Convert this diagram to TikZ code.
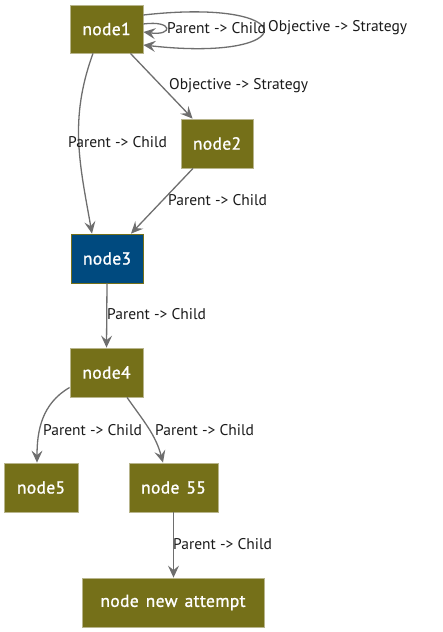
\documentclass[tikz,border=0pt]{standalone}
\usepackage{fontspec}
\setmainfont{PT Sans}
\newfontfamily\nodefont[FakeBold=1.1,WordSpace=1.4,LetterSpace=2]{PT Sans}
\usetikzlibrary{arrows.meta}
\definecolor{olive}{HTML}{757019}
\definecolor{olivebd}{HTML}{B8B58C}
\definecolor{navy}{HTML}{004A7F}
\definecolor{edgegray}{HTML}{6E6E6E}
\definecolor{lbltext}{HTML}{1A1A1A}
\begin{document}
\begin{tikzpicture}[x=1pt,y=1pt,
  box/.style={draw=olivebd,line width=0.8pt,fill=olive,text=white,inner sep=0pt,
    font=\nodefont\fontsize{17.5}{20}\selectfont},
  bluebox/.style={box,fill=navy,draw=olive},
  edge/.style={draw=edgegray,line width=1.3pt,-{Stealth[length=12pt,width=11pt,inset=4.5pt]}},
  lbl/.style={anchor=west,inner sep=0pt,text=lbltext,font=\fontsize{15.5}{18}\selectfont}]
\useasboundingbox (0,0) rectangle (443,-632);
\node[box,minimum width=73,minimum height=48] (n1) at (106.5,-29) {node1};
\node[box,minimum width=72,minimum height=49] (n2) at (217,-143.5) {node2};
\node[bluebox,minimum width=72,minimum height=49] (n3) at (107,-258.5) {node3};
\node[box,minimum width=73,minimum height=49] (n4) at (106.5,-372.5) {node4};
\node[box,minimum width=74,minimum height=49] (n5) at (41,-487.5) {node5};
\node[box,minimum width=89,minimum height=49] (n55) at (173.5,-487.5) {node 55};
\node[box,minimum width=182,minimum height=49] (nn) at (173,-602.5) {node new attempt};
% self loops
\draw[edge] ([yshift=5]n1.east) .. controls +(30,4) and +(30,-4) .. ([yshift=-3]n1.east);
\draw[edge] ([yshift=14]n1.east) .. controls +(160,18) and +(160,-18) .. ([yshift=-16]n1.east);
\node[lbl] (l1) at (167,-28) {Parent -> Child};
\node[lbl] (l2) at (268,-28) {Objective -> Strategy};
% node1 -> node2
\draw[edge] ([xshift=-13]n1.south east) -- ([xshift=12]n2.north west);
\node[lbl] (l3) at (169,-86) {Objective -> Strategy};
% node1 -> node3
\draw[edge] ([xshift=-13.5]n1.south) to[out=250,in=100,looseness=1] ([xshift=-15]n3.north);
\node[lbl] (l4) at (68,-142) {Parent -> Child};
% node2 -> node3
\draw[edge] ([xshift=-24]n2.south) -- ([xshift=24]n3.north);
\node[lbl] (l5) at (168,-200) {Parent -> Child};
% node3 -> node4
\draw[edge] (n3.south) -- (n4.north);
\node[lbl] (l6) at (107,-314) {Parent -> Child};
% node4 -> node5
\draw[edge] ([yshift=-15]n4.west) to[out=210,in=90] ([xshift=-4]n5.north);
\node[lbl] (l7) at (43,-430) {Parent -> Child};
% node4 -> node55
\draw[edge] ([xshift=20.5]n4.south) to[out=-55,in=105] ([xshift=-10.5]n55.north);
\node[lbl] (l8) at (155,-430) {Parent -> Child};
% node55 -> new
\draw[edge] (n55.south) -- (n55.south |- nn.north);
\node[lbl] (l9) at (173,-544) {Parent -> Child};
\end{tikzpicture}
\end{document}
